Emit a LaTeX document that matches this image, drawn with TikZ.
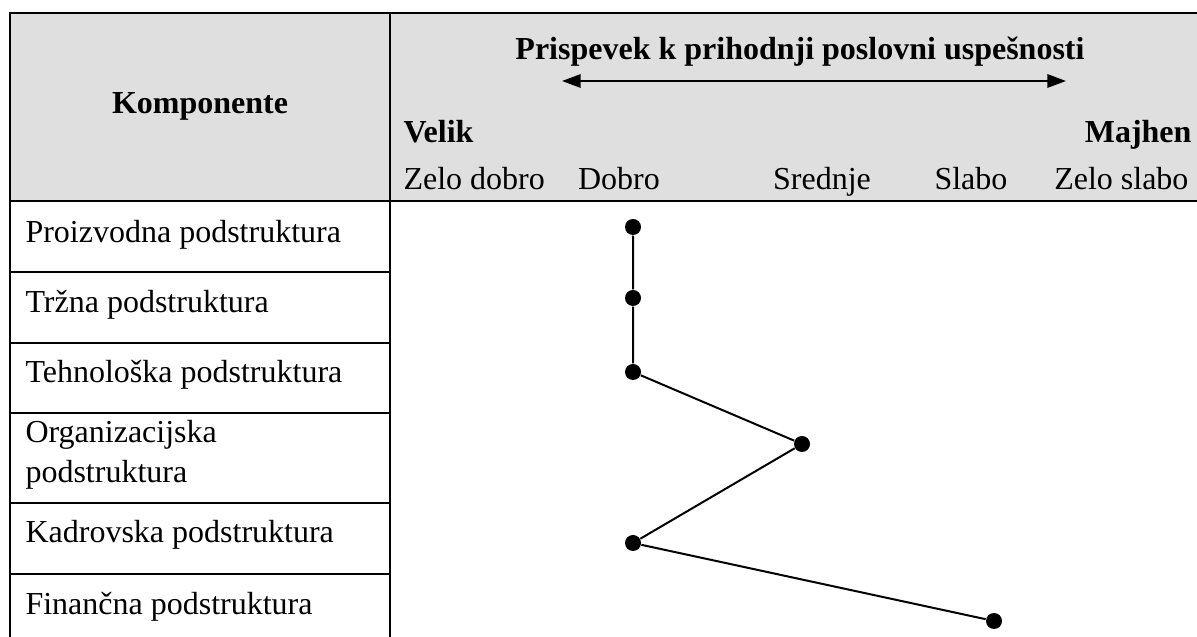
\documentclass[tikz,border=0pt]{standalone}
\usepackage{fontspec}
\setmainfont{Liberation Serif}
\usetikzlibrary{positioning,arrows.meta}
\definecolor{headgray}{RGB}{223,223,223}

\begin{document}
\begin{tikzpicture}[x=0.375pt,y=-0.375pt,
  txt/.style={inner sep=0pt,font=\fontsize{12}{14.4}\selectfont},
  head/.style={inner sep=0pt,font=\fontsize{12}{14.4}\selectfont\bfseries},
  dot/.style={circle,fill,inner sep=0pt,minimum size=6pt},
  rule/.style={line width=0.9pt}]
\useasboundingbox (0,0) rectangle (1197,637);
\fill[headgray] (10,13) rectangle (1197,201);
\draw[rule] (1197,13) -- (10,13) -- (10,637);
\draw[rule] (390,13) -- (390,637);
\draw[rule] (10,201) -- (1197,201);
\foreach \y in {272,343,413,503,574} \draw[rule] (10,\y) -- (390,\y);

% glava
\node[head,anchor=base] (komp) at (200,114) {Komponente};
\node[head,anchor=base] (naslov) at (800,60) {Prispevek k prihodnji poslovni uspešnosti};
\coordinate (lev) at (562,81);
\coordinate (des) at (1066,81);
\draw[line width=0.8pt,{Triangle[length=7pt,width=5pt]}-{Triangle[length=7pt,width=5pt]}] (lev) -- (des);
\node[head,anchor=base west] (velik) at (403,143) {Velik};
\node[head,anchor=base east] (majhen) at (1192,143) {Majhen};
\node[txt,anchor=base west] (zdobro) at (403,190) {Zelo dobro};
\node[txt,anchor=base] (dobro) at (619,190) {Dobro};
\node[txt,anchor=base] (srednje) at (822,190) {Srednje};
\node[txt,anchor=base] (slabo) at (971,190) {Slabo};
\node[txt,anchor=base east] (zslabo) at (1189,190) {Zelo slabo};

% komponente
\node[txt,anchor=base west] (r1) at (25,243) {Proizvodna podstruktura};
\node[txt,anchor=base west] (r2) at (25,313) {Tržna podstruktura};
\node[txt,anchor=base west] (r3) at (25,383) {Tehnološka podstruktura};
\node[txt,anchor=base west] (r4) at (25,443) {Organizacijska};
\node[txt,anchor=base west] (r4b) at (25,483) {podstruktura};
\node[txt,anchor=base west] (r5) at (25,543) {Kadrovska podstruktura};
\node[txt,anchor=base west] (r6) at (25,615) {Finančna podstruktura};

% ocene
\node[dot] (p1) at (633,227) {};
\node[dot] (p2) at (633,298) {};
\node[dot] (p3) at (633,372) {};
\node[dot] (p4) at (802,444) {};
\node[dot] (p5) at (633,543) {};
\node[dot] (p6) at (994,621) {};
\draw[line width=0.75pt] (p1) -- (p2) -- (p3) -- (p4) -- (p5) -- (p6);
\end{tikzpicture}
\end{document}
